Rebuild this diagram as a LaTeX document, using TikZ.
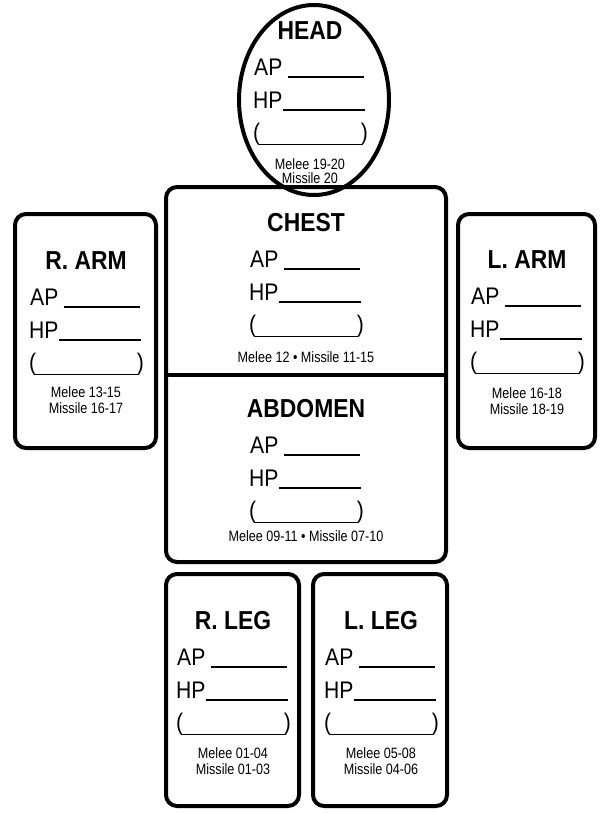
\documentclass[tikz,border=0pt]{standalone}
\usepackage{fontspec}
\setmainfont{Liberation Sans}
\newfontfamily\condsans[FakeStretch=0.88]{Liberation Sans}
\newfontfamily\narrowsans[FakeStretch=0.84]{Liberation Sans}

\tikzset{
  outline/.style={draw=black, line width=4pt, rounded corners=11pt},
  headline/.style={draw=black, line width=4pt},
  titletext/.style={inner sep=0pt, anchor=base, font=\condsans\bfseries\fontsize{26}{30}\selectfont},
  fieldtext/.style={inner sep=0pt, font=\condsans\fontsize{24}{27}\selectfont},
  rangetext/.style={inner sep=0pt, align=center, font=\narrowsans\fontsize{15}{16}\selectfont},
  rule/.style={draw=black, line width=1.4pt},
}

% One record card: name, centre x, title centre y, title, hit ranges, y of ranges
\newcommand\bodypart[6]{%
  \node[titletext] (#1-title) at (#2,#3+9) {#4};
  \node[fieldtext, anchor=base west] (#1-ap) at (#2-56,#3+45) {AP};
  \coordinate (#1-apend) at (#2+54,#3+47);
  \draw[rule] (#1-ap.base east) ++(5pt,-2pt) coordinate (#1-apstart) -- (#1-apend);
  \node[fieldtext, anchor=base west] (#1-hp) at (#2-57,#3+78) {HP};
  \coordinate (#1-hpend) at (#2+55,#3+80);
  \draw[rule] (#1-hp.base east) ++(0pt,-2pt) coordinate (#1-hpstart) -- (#1-hpend);
  \node[fieldtext, anchor=base west] (#1-lp) at (#2-57,#3+110) {(};
  \node[fieldtext, anchor=base east] (#1-rp) at (#2+58,#3+110) {)};
  \draw[rule] (#1-lp.south east) ++(-1.5pt,0.5pt) -- ([shift={(1.5pt,0.5pt)}]#1-rp.south west);
  \node[rangetext] (#1-range) at (#2,#6) {#5};
}

\begin{document}
\begin{tikzpicture}[x=1pt, y=-1pt]
  \useasboundingbox (0,0) rectangle (605,814);
  \fill[white] (0,0) rectangle (605,814);

  % outlines
  \draw[headline] (314,100) ellipse [x radius=75, y radius=95];
  \draw[outline] (166,187) rectangle (446,562);
  \draw[headline] (166,375) -- (446,375);
  \draw[outline] (15,214) rectangle (156,448);
  \draw[outline] (458,214) rectangle (595,448);
  \draw[outline] (166,574) rectangle (299,806);
  \draw[outline] (313,574) rectangle (447,806);

  % cards
  \bodypart{head}{310}{30}{HEAD}{Melee 19-20\\[-2pt]Missile 20}{171}
  \bodypart{chest}{306}{222}{CHEST}{Melee 12 \textbullet\ Missile 11-15}{357}
  \bodypart{abd}{306}{408}{ABDOMEN}{Melee 09-11 \textbullet\ Missile 07-10}{536}
  \bodypart{rarm}{86}{260}{R. ARM}{Melee 13-15\\Missile 16-17}{400}
  \bodypart{larm}{527}{259}{L. ARM}{Melee 16-18\\Missile 18-19}{401}
  \bodypart{rleg}{233}{620}{R. LEG}{Melee 01-04\\Missile 01-03}{761}
  \bodypart{lleg}{381}{620}{L. LEG}{Melee 05-08\\Missile 04-06}{761}
\end{tikzpicture}
\end{document}
